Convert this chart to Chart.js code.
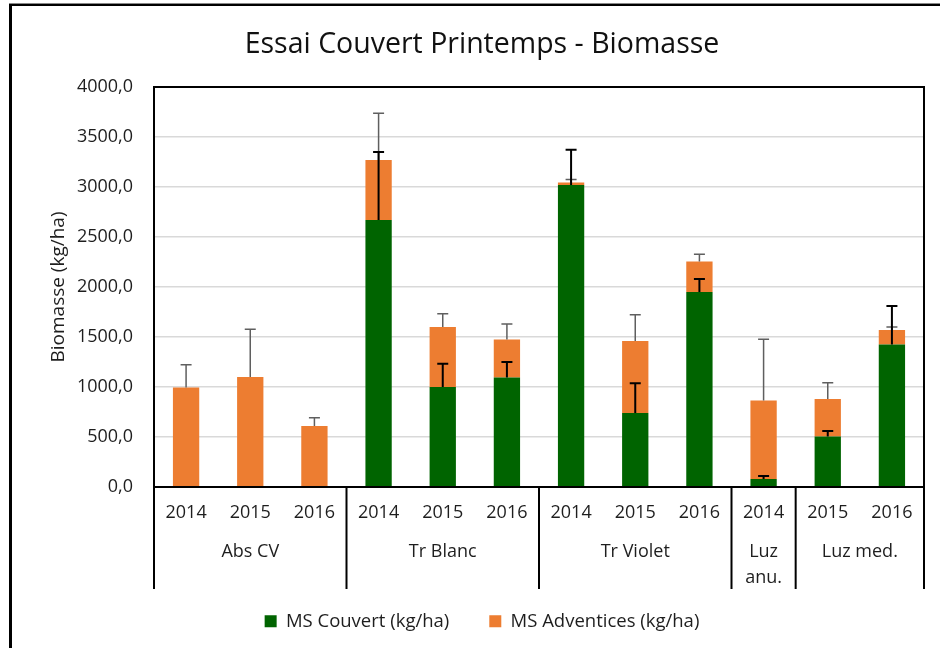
<!DOCTYPE html>
<html>
<head>
<meta charset="utf-8">
<script src="https://cdn.jsdelivr.net/npm/chart.js@4.4.1/dist/chart.umd.min.js"></script>
<style>
  html, body { margin: 0; padding: 0; background: #fff; }
  #wrap { position: relative; width: 940px; height: 648px; overflow: hidden; }
  #frame { position: absolute; left: 9px; top: 4px; width: 960px; height: 700px;
           border-left: 3px solid #000; border-top: 2px solid #000; box-shadow: 0 -1px 0 #888; }
  canvas { position: absolute; left: 0; top: 0; }
</style>
</head>
<body>
<div id="wrap">
  <div id="frame"></div>
  <canvas id="chart" width="940" height="648"></canvas>
</div>
<script>
// categories
const years = ['2014', '2015', '2016', '2014', '2015', '2016', '2014', '2015', '2016', '2014', '2015', '2016'];
const groups = [['Abs CV'], ['Tr Blanc'], ['Tr Violet'], ['Luz', 'anu.'], ['Luz med.']];
const groupSizes = [3, 3, 3, 1, 2];

// values (kg/ha)
const couvert = [0, 0, 0, 2670, 1000, 1095, 3020, 740, 1950, 80, 505, 1425];
const adventices = [995, 1100, 610, 600, 600, 380, 25, 720, 305, 785, 375, 145];
const errCouvert = [null, null, null, 680, 233, 155, 353, 297, 130, 30, 55, 385];
const errAdventices = [228, 477, 83, 467, 133, 155, 30, 263, 72, 612, 163, 30];

const FONT = "'Open Sans', sans-serif";
const TXT = '#1e1e1e';

// error bars (upper only), separators of the group axis, plot frame
const extras = {
    id: 'extras',
    afterDatasetsDraw(chart) {
        const ctx = chart.ctx;
        const x = chart.scales.x, y = chart.scales.y;
        function bar(i, base, err, color, lw) {
            if (err == null) return;
            const px = x.getPixelForValue(i);
            const y0 = y.getPixelForValue(base);
            const y1 = y.getPixelForValue(base + err);
            ctx.save();
            ctx.strokeStyle = color;
            ctx.lineWidth = lw;
            ctx.beginPath();
            ctx.moveTo(px, y0);
            ctx.lineTo(px, y1);
            ctx.moveTo(px - 5.5, y1);
            ctx.lineTo(px + 5.5, y1);
            ctx.stroke();
            ctx.restore();
        }
        for (let i = 0; i < years.length; i++) {
            bar(i, couvert[i] + adventices[i], errAdventices[i], '#5f5f5f', 1.5);
        }
        for (let i = 0; i < years.length; i++) {
            bar(i, couvert[i], errCouvert[i], '#000', 2);
        }
    },
    afterDraw(chart) {
        const ctx = chart.ctx;
        const a = chart.chartArea;
        const step = (a.right - a.left) / years.length;
        ctx.save();
        ctx.strokeStyle = '#000';
        ctx.lineWidth = 2;
        ctx.strokeRect(a.left, a.top, a.right - a.left, a.bottom - a.top);
        // group separators
        let idx = 0;
        const edges = [0];
        groupSizes.forEach(n => { idx += n; edges.push(idx); });
        ctx.beginPath();
        edges.forEach(e => {
            const px = a.left + e * step;
            ctx.moveTo(px, a.bottom);
            ctx.lineTo(px, a.bottom + 102);
        });
        ctx.stroke();
        // group labels
        ctx.fillStyle = TXT;
        ctx.font = '18px ' + FONT;
        ctx.textAlign = 'center';
        ctx.textBaseline = 'middle';
        groups.forEach((g, k) => {
            const cx = a.left + (edges[k] + edges[k + 1]) / 2 * step;
            g.forEach((line, j) => ctx.fillText(line, cx, a.bottom + 65 + j * 26));
        });
        ctx.restore();
    }
};

new Chart(document.getElementById('chart'), {
    type: 'bar',
    data: {
        labels: years,
        datasets: [{
            label: 'MS Couvert (kg/ha)',
            data: couvert,
            backgroundColor: '#006400',
            borderWidth: 0
        }, {
            label: 'MS Adventices (kg/ha)',
            data: adventices,
            backgroundColor: '#ED7D31',
            borderWidth: 0
        }]
    },
    options: {
        responsive: false,
        animation: false,
        layout: { padding: { left: 40, right: 16, top: 10, bottom: 7.5 } },
        datasets: { bar: { categoryPercentage: 1, barPercentage: 0.41 } },
        scales: {
            x: {
                stacked: true,
                grid: { display: false, drawTicks: false },
                border: { display: false },
                ticks: { color: TXT, font: { family: FONT, size: 18 }, padding: 15, maxRotation: 0, autoSkip: false },
                afterFit(scale) { scale.height = 85; }
            },
            y: {
                stacked: true,
                min: 0,
                max: 4000,
                grid: { color: '#d9d9d9', lineWidth: 1.5, drawTicks: false },
                border: { display: false },
                ticks: {
                    stepSize: 500,
                    color: TXT,
                    padding: 21,
                    font: { family: FONT, size: 18 },
                    callback: v => v.toFixed(1).replace('.', ',')
                },
                title: { display: true, text: 'Biomasse (kg/ha)', color: TXT, font: { family: FONT, size: 19 }, padding: { top: 7, bottom: 0 } },
                afterFit(scale) { scale.width = 114; }
            }
        },
        plugins: {
            title: {
                display: true,
                text: 'Essai Couvert Printemps - Biomasse',
                color: '#111',
                font: { family: FONT, size: 28.5, weight: 'normal' },
                padding: { top: 17.9, bottom: 24.9 }
            },
            legend: {
                position: 'bottom',
                labels: { color: TXT, font: { family: FONT, size: 18.5 }, boxWidth: 12, boxHeight: 12, padding: 40 }
            },
            tooltip: { enabled: false }
        }
    },
    plugins: [extras]
});
</script>
</body>
</html>
